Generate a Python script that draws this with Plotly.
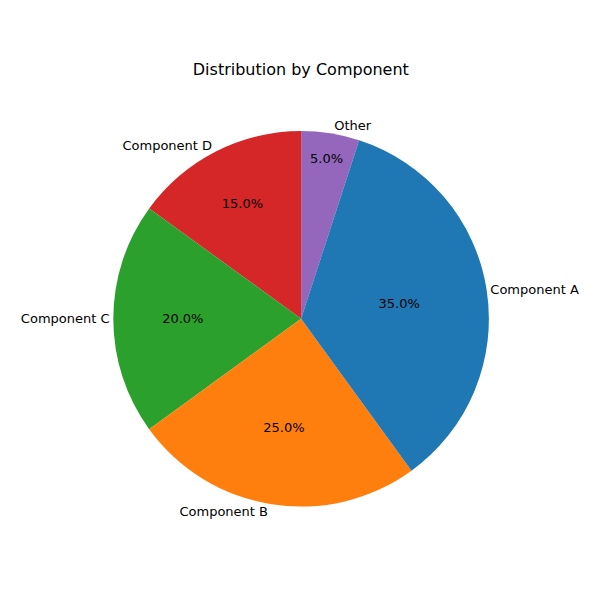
import plotly.graph_objects as go

labels = ["Component A", "Component B", "Component C", "Component D", "Other"]
values = [35, 25, 20, 15, 5]
colors = ["#1f77b4", "#ff7f0e", "#2ca02c", "#d62728", "#9467bd"]

# draw in reversed order so slices run counterclockwise from 12 o'clock like the reference
rl, rv, rc = labels[::-1], values[::-1], colors[::-1]

dom = dict(x=[0.175, 0.802], y=[0.169, 0.795])
fig = go.Figure()
fig.add_trace(go.Pie(labels=rl, values=rv, sort=False, direction="counterclockwise",
                     rotation=0, marker=dict(colors=rc), texttemplate="%{percent:.1%}",
                     textposition="inside", insidetextorientation="horizontal",
                     textfont=dict(size=13, color="black", family="DejaVu Sans"),
                     domain=dom, showlegend=False, hoverinfo="skip"))
fig.add_trace(go.Pie(labels=rl, values=rv, sort=False, direction="counterclockwise",
                     rotation=0, marker=dict(colors=["rgba(0,0,0,0)"] * 5), texttemplate="%{label}",
                     textposition="outside", textfont=dict(size=13, color="black", family="DejaVu Sans"),
                     domain=dom, showlegend=False, hoverinfo="skip"))
fig.update_layout(width=600, height=600, margin=dict(l=0, r=0, t=0, b=0),
                  paper_bgcolor="white", plot_bgcolor="white",
                  title=dict(text="Distribution by Component", x=0.488, xanchor="center",
                             y=1 - 61 / 600, yanchor="middle",
                             font=dict(size=16, color="black", family="DejaVu Sans")))
fig.write_html("out.html")
